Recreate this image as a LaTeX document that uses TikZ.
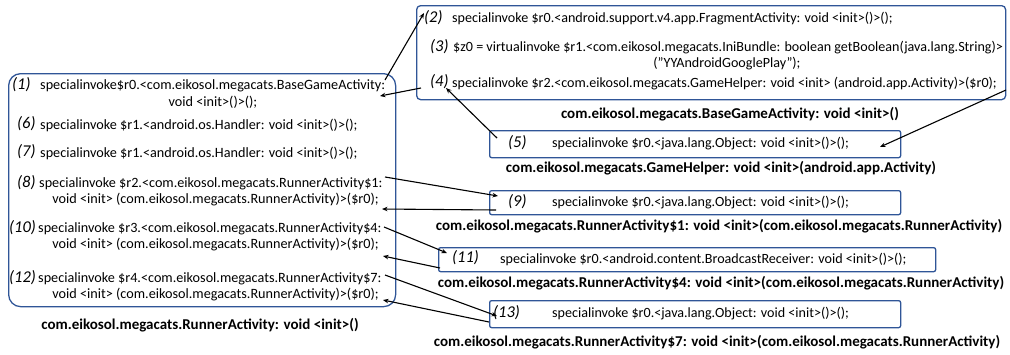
\documentclass[tikz,border=0pt]{standalone}
\usepackage{fontspec}
\setmainfont{Carlito}
\usetikzlibrary{arrows.meta}
\definecolor{bblue}{RGB}{47,85,151}
\begin{document}
\begin{tikzpicture}[x=1pt,y=-1pt,
  box/.style={draw=bblue, line width=1.3pt, anchor=north west, inner sep=0pt},
  code/.style={font=\fontsize{14.2}{16}\selectfont, inner sep=0pt, anchor=west},
  codes/.style={font=\fontsize{14.1}{16}\selectfont, inner sep=0pt, anchor=west},
  lbl/.style={font=\fontsize{16.5}{18}\selectfont\itshape, inner sep=0pt, anchor=west},
  ttl/.style={font=\fontsize{15}{17}\selectfont\bfseries, inner sep=0pt},
  arr/.style={-{Stealth[length=5.5pt,width=4.5pt]}, line width=1.1pt}]
\useasboundingbox (0,0) rectangle (1010,354);
% boxes
\node[box, rounded corners=12pt, minimum width=387pt, minimum height=233pt] (L) at (8,73) {};
\node[box, rounded corners=4pt, minimum width=589pt, minimum height=94pt] (T) at (416,5) {};
\node[box, rounded corners=2pt, minimum width=411pt, minimum height=27pt] (B5) at (489,130) {};
\node[box, rounded corners=2pt, minimum width=411pt, minimum height=24pt] (B9) at (489,190) {};
\node[box, rounded corners=2pt, minimum width=497pt, minimum height=24pt] (B11) at (438,247) {};
\node[box, rounded corners=2pt, minimum width=411pt, minimum height=27pt] (B13) at (489,300) {};
% left box text
\node[lbl] (l1) at (12,85) {(1)};
\node[code] (c1a) at (40,86) {specialinvoke\$r0.<com.eikosol.megacats.BaseGameActivity:};
\node[code, anchor=center] (c1b) at (213,102) {void <init>()>();};
\node[lbl] (l6) at (17,124) {(6)};
\node[code] (c6) at (40,125) {specialinvoke \$r1.<android.os.Handler: void <init>()>();};
\node[lbl] (l7) at (17,152) {(7)};
\node[code] (c7) at (40,153) {specialinvoke \$r1.<android.os.Handler: void <init>()>();};
\node[lbl] (l8) at (17,183) {(8)};
\node[code] (c8a) at (39,184) {specialinvoke \$r2.<com.eikosol.megacats.RunnerActivity\$1:};
\node[code, anchor=east] (c8b) at (379,200) {void <init> (com.eikosol.megacats.RunnerActivity)>(\$r0);};
\node[lbl] (l10) at (9,228) {(10)};
\node[code] (c10a) at (38,229) {specialinvoke \$r3.<com.eikosol.megacats.RunnerActivity\$4:};
\node[code, anchor=east] (c10b) at (379,245) {void <init> (com.eikosol.megacats.RunnerActivity)>(\$r0);};
\node[lbl] (l12) at (9,278) {(12)};
\node[code] (c12a) at (38,279) {specialinvoke \$r4.<com.eikosol.megacats.RunnerActivity\$7:};
\node[code, anchor=east] (c12b) at (379,295) {void <init> (com.eikosol.megacats.RunnerActivity)>(\$r0);};
\node[ttl] (tL) at (200,325) {com.eikosol.megacats.RunnerActivity: void <init>()};
% top box text
\node[lbl] (l2) at (424,18) {(2)};
\node[codes] (c2) at (452,19) {specialinvoke \$r0.<android.support.v4.app.FragmentActivity: void <init>()>();};
\node[lbl] (l3) at (430,47) {(3)};
\node[codes] (c3a) at (453,48) {\$z0 = virtualinvoke \$r1.<com.eikosol.megacats.IniBundle: boolean getBoolean(java.lang.String)>};
\node[codes, anchor=center] (c3b) at (727,64) {("YYAndroidGooglePlay");};
\node[lbl] (l4) at (430,82) {(4)};
\node[codes] (c4) at (452,84) {specialinvoke \$r2.<com.eikosol.megacats.GameHelper: void <init> (android.app.Activity)>(\$r0);};
\node[ttl] (tT) at (730,114) {com.eikosol.megacats.BaseGameActivity: void <init>()};
% small boxes text
\node[lbl] (l5) at (508,143) {(5)};
\node[codes] (c5) at (552,144) {specialinvoke \$r0.<java.lang.Object: void <init>()>();};
\node[ttl] (t5) at (721,168) {com.eikosol.megacats.GameHelper: void <init>(android.app.Activity)};
\node[lbl] (l9) at (508,202) {(9)};
\node[codes] (c9) at (552,203) {specialinvoke \$r0.<java.lang.Object: void <init>()>();};
\node[ttl] (t9) at (719,226) {com.eikosol.megacats.RunnerActivity\$1: void <init>(com.eikosol.megacats.RunnerActivity)};
\node[lbl] (l11) at (452,258) {(11)};
\node[codes] (c11) at (500,259) {specialinvoke \$r0.<android.content.BroadcastReceiver: void <init>()>();};
\node[ttl] (t11) at (721,283) {com.eikosol.megacats.RunnerActivity\$4: void <init>(com.eikosol.megacats.RunnerActivity)};
\node[lbl] (l13) at (493,313) {(13)};
\node[codes] (c13) at (552,314) {specialinvoke \$r0.<java.lang.Object: void <init>()>();};
\node[ttl] (t13) at (717,342) {com.eikosol.megacats.RunnerActivity\$7: void <init>(com.eikosol.megacats.RunnerActivity)};
% arrow end points
\coordinate (a1s) at (385,80); \coordinate (a1e) at (424,13);
\coordinate (a2s) at (421,88); \coordinate (a2e) at (380,96);
\coordinate (a3s) at (497,138); \coordinate (a3e) at (446,88);
\coordinate (a4s) at (1006,90); \coordinate (a4e) at (880,147);
\coordinate (a5s) at (385,177); \coordinate (a5e) at (498,196);
\coordinate (a6s) at (496,210); \coordinate (a6e) at (382,209);
\coordinate (a7s) at (384,227); \coordinate (a7e) at (447,253);
\coordinate (a8s) at (440,268); \coordinate (a8e) at (383,256);
\coordinate (a9s) at (385,275); \coordinate (a9e) at (497,316);
\coordinate (a10s) at (489,322); \coordinate (a10e) at (383,300);
\draw[arr] (a1s) -- (a1e);
\draw[arr] (a2s) -- (a2e);
\draw[arr] (a3s) -- (a3e);
\draw[arr] (a4s) -- (a4e);
\draw[arr] (a5s) -- (a5e);
\draw[arr] (a6s) -- (a6e);
\draw[arr] (a7s) -- (a7e);
\draw[arr] (a8s) -- (a8e);
\draw[arr] (a9s) -- (a9e);
\draw[arr] (a10s) -- (a10e);
\end{tikzpicture}
\end{document}
